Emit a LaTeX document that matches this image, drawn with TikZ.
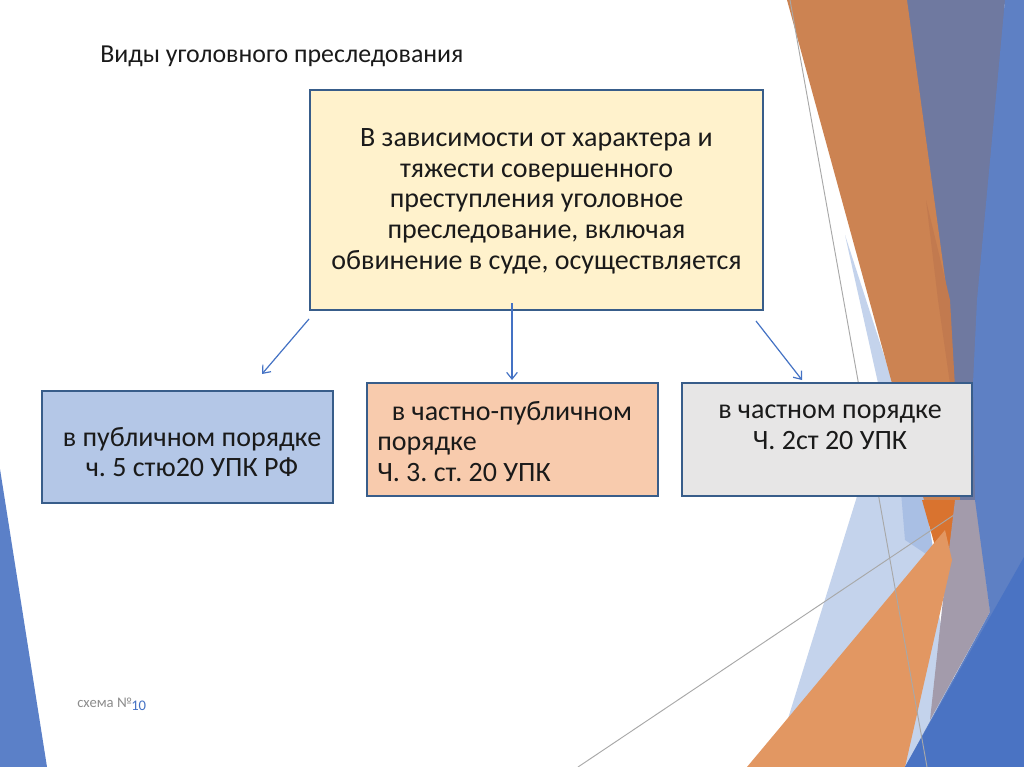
\documentclass[tikz,border=0pt]{standalone}
\usepackage{fontspec}
\setmainfont{Carlito}
\usetikzlibrary{arrows.meta}
\frenchspacing
\definecolor{topfill}{HTML}{FFF2CC}
\definecolor{pubfill}{HTML}{B4C7E7}
\definecolor{midfill}{HTML}{F8CBAD}
\definecolor{privfill}{HTML}{E7E6E6}
\definecolor{boxline}{HTML}{385D8A}
\definecolor{arrowblue}{HTML}{4472C4}
\definecolor{txt}{HTML}{1A1A1A}
\definecolor{orA}{HTML}{CC8352}
\definecolor{orDark}{HTML}{C27A4F}
\definecolor{orTip}{HTML}{D9732F}
\definecolor{orB}{HTML}{E29762}
\definecolor{slate}{HTML}{6F79A0}
\definecolor{mauve}{HTML}{A39BAB}
\definecolor{bandblue}{HTML}{5E80C4}
\definecolor{deepblue}{HTML}{4A73C3}
\definecolor{ltblue}{HTML}{C4D3EC}
\definecolor{midblue}{HTML}{A9BFE4}
\definecolor{lineg}{HTML}{A8A8A8}
\definecolor{leftblue}{HTML}{5B80C8}
\tikzset{
  boxbase/.style={draw=boxline, line width=1.5pt, inner sep=0pt},
  boxtext/.style={text=txt, inner sep=0pt, font=\fontsize{21}{23}\selectfont},
  arr/.style={draw=arrowblue, line width=0.9pt, -{Straight Barb[length=5pt,width=8pt]}},
  gline/.style={draw=lineg, line width=0.7pt},
}
\begin{document}
\begin{tikzpicture}[x=0.75pt,y=-0.75pt]
\useasboundingbox (0,0) rectangle (1024,767);
\fill[white] (0,0) rectangle (1024,767);
% left decoration
\fill[leftblue] (0,469) -- (47,767) -- (0,767) -- cycle;
% right decorations
\fill[ltblue] (890,390) -- (972,767) -- (773,767) -- cycle;
\fill[midblue] (895,420) -- (925,500) -- (935,560) -- (905,540) -- cycle;
\fill[ltblue] (845,235) -- (893,383) -- (878,383) -- cycle;
\fill[slate] (905,0) -- (1005,0) -- (975,500) -- (990,612) -- (940,500) -- (930,250) -- cycle;
\fill[orA] (787,0) -- (907,0) -- (948,300) -- (960,500) -- (950,595) -- cycle;
\fill[orDark] (926,200) -- (950,300) -- (958,440) -- (938,300) -- cycle;
\fill[orTip] (922,500) -- (957,500) -- (948,592) -- cycle;
\draw[gline] (578,767) -- (1024,468);
\fill[mauve] (955,500) -- (976,500) -- (990,612) -- (930,720) -- (943,600) -- cycle;
\fill[orB] (747,767) -- (945,530) -- (952,560) -- (905,767) -- cycle;
\fill[bandblue] (1005,0) -- (1024,0) -- (1024,767) -- (905,767) -- (990,612) -- (975,500) -- (973,383) -- (977,300) -- cycle;
\fill[deepblue] (1024,557) -- (1024,767) -- (905,767) -- cycle;
\draw[gline] (790,0) -- (927,767);
% title
\node[anchor=west, text=txt, inner sep=0pt, font=\fontsize{19.4}{22}\selectfont] (title) at (100,56) {Виды уголовного преследования};
% boxes
\node[boxbase, fill=topfill, minimum width=453*0.75pt, minimum height=220*0.75pt] (top) at (536.5,200) {};
\node[boxtext, align=center] (toptxt) at (536.5,201)
  {В зависимости от характера и\\тяжести совершенного\\преступления уголовное\\преследование, включая\\обвинение в суде, осуществляется};
\node[boxbase, fill=pubfill, minimum width=291*0.75pt, minimum height=112*0.75pt] (pub) at (187.5,447) {};
\node[boxtext, align=center] (pubtxt) at (192,452) {в публичном порядке\\ч. 5 стю20 УПК РФ};
\node[boxbase, fill=midfill, minimum width=291*0.75pt, minimum height=113*0.75pt] (mid) at (512.5,439.5) {};
\node[boxtext, align=left, anchor=west] (midtxt) at (377,441.5) {\hspace{11pt}в частно-публичном\\порядке\\Ч. 3. ст. 20 УПК};
\node[boxbase, fill=privfill, minimum width=290*0.75pt, minimum height=113*0.75pt] (priv) at (827,439.5) {};
\node[boxtext, align=center] (privtxt) at (830,427) {в частном порядке\\Ч. 2ст 20 УПК};
% arrows
\draw[arr] ([shift={(0,8)}]top.south west) -- ([shift={(74.5,-16)}]pub.north);
\draw[arr] ([shift={(-24.5,-8)}]top.south) -- ([shift={(-0.5,-2)}]mid.north);
\draw[arr] ([shift={(-8,10)}]top.south east) -- ([shift={(-25,-2)}]priv.north);
% footer
\node[anchor=west, text=gray!90, font=\fontsize{11}{12}\selectfont, inner sep=0pt] (sch) at (77,703) {схема №};
\node[anchor=west, text=arrowblue, font=\fontsize{11}{12}\selectfont, inner sep=0pt] (num) at (131,706) {10};
\end{tikzpicture}
\end{document}
